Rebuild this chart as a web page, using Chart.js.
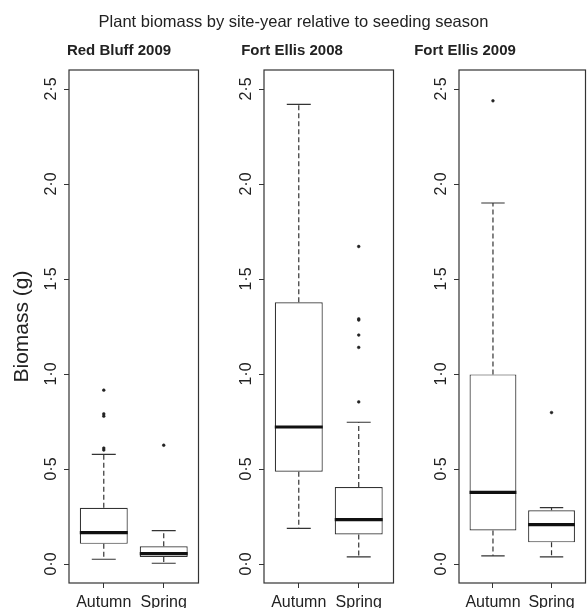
<!DOCTYPE html>
<html>
<head>
<meta charset="utf-8">
<script src="https://cdn.jsdelivr.net/npm/chart.js@4/dist/chart.umd.min.js"></script>
<style>
  html, body { margin: 0; padding: 0; background: #fff; }
  #figure { position: relative; width: 587px; height: 608px; overflow: hidden;
            font-family: "Liberation Sans", Arial, sans-serif; color: #222; }
  #figure canvas { position: absolute; top: 0; }
  .main-title { position: absolute; top: 13px; left: 0; width: 587px; text-align: center;
                font-size: 16.5px; line-height: 1; z-index: 2; }
  .panel-title { position: absolute; top: 42px; font-size: 15px; font-weight: bold; line-height: 1;
                 transform: translateX(-50%); white-space: nowrap; z-index: 2; }
</style>
</head>
<body>
<div id="figure">
  <div class="main-title">Plant biomass by site-year relative to seeding season</div>
  <div class="panel-title" style="left:119px">Red Bluff 2009</div>
  <div class="panel-title" style="left:292px">Fort Ellis 2008</div>
  <div class="panel-title" style="left:465px">Fort Ellis 2009</div>
  <canvas id="panel0" width="203" height="608" style="left:0px"></canvas>
  <canvas id="panel1" width="203" height="608" style="left:195px"></canvas>
  <canvas id="panel2" width="200" height="608" style="left:390px"></canvas>
</div>
<script>
// seeding season groups and site-years
const groups = ['Autumn', 'Spring'];
const siteYears = ['Red Bluff 2009', 'Fort Ellis 2008', 'Fort Ellis 2009'];

// boxplot statistics per site-year, [Autumn, Spring]
const whiskerLow = [[0.025, 0.004], [0.187, 0.037], [0.043, 0.037]];
const quartile1 = [[0.106, 0.037], [0.486, 0.155], [0.176, 0.114]];
const medians = [[0.165, 0.055], [0.721, 0.234], [0.377, 0.207]];
const quartile3 = [[0.296, 0.093], [1.377, 0.405], [0.998, 0.283]];
const whiskerHigh = [[0.577, 0.176], [2.419, 0.746], [1.9, 0.297]];
const outliers = [
    [[0.915, 0.79, 0.778, 0.61, 0.6], [0.625]],
    [[], [1.671, 1.29, 1.284, 1.205, 1.14, 0.853]],
    [[2.438], [0.797]],
];

const yTicks = [0, 0.5, 1.0, 1.5, 2.0, 2.5];

Chart.defaults.font.family = '"Liberation Sans", Arial, sans-serif';
Chart.defaults.color = '#222';

const ink = '#333';

const framePlugin = {
    id: 'frame',
    afterDatasetsDraw(chart) {
        const { ctx, chartArea } = chart;
        ctx.save();
        ctx.strokeStyle = ink;
        ctx.lineWidth = 1.2;
        ctx.strokeRect(chartArea.left, chartArea.top,
            chartArea.right - chartArea.left, chartArea.bottom - chartArea.top);
        ctx.restore();
    },
};

// segments separated by null gaps
function segments(pairs) {
    const out = [];
    pairs.forEach(([a, b]) => {
        out.push(a, b, { x: a.x, y: null });
    });
    return out;
}

function makePanel(p) {
    const canvas = document.getElementById('panel' + p);
    const boxHalf = 0.4;
    const stapleHalf = 0.2;

    const boxes = groups.map((g, i) => ({ x: i + 1, y: [quartile1[p][i], quartile3[p][i]] }));
    const medianLines = segments(groups.map((g, i) => [
        { x: i + 1 - boxHalf, y: medians[p][i] },
        { x: i + 1 + boxHalf, y: medians[p][i] },
    ]));
    const whiskers = segments(groups.flatMap((g, i) => [
        [{ x: i + 1, y: quartile3[p][i] }, { x: i + 1, y: whiskerHigh[p][i] }],
        [{ x: i + 1, y: quartile1[p][i] }, { x: i + 1, y: whiskerLow[p][i] }],
    ]));
    const staples = segments(groups.flatMap((g, i) => [
        [{ x: i + 1 - stapleHalf, y: whiskerHigh[p][i] }, { x: i + 1 + stapleHalf, y: whiskerHigh[p][i] }],
        [{ x: i + 1 - stapleHalf, y: whiskerLow[p][i] }, { x: i + 1 + stapleHalf, y: whiskerLow[p][i] }],
    ]));
    const points = groups.flatMap((g, i) => outliers[p][i].map((v) => ({ x: i + 1, y: v })));

    new Chart(canvas, {
        type: 'bar',
        data: {
            datasets: [
                {
                    type: 'line',
                    label: 'Median',
                    data: medianLines,
                    borderColor: '#111',
                    borderWidth: 3.2,
                    pointRadius: 0,
                    spanGaps: false,
                    order: 0,
                },
                {
                    type: 'scatter',
                    label: 'Outliers',
                    data: points,
                    pointRadius: 1.4,
                    backgroundColor: '#222',
                    borderColor: '#222',
                    borderWidth: 0.5,
                    order: 1,
                },
                {
                    type: 'line',
                    label: 'Whiskers',
                    data: whiskers,
                    borderColor: ink,
                    borderWidth: 1.2,
                    borderDash: [5, 3],
                    pointRadius: 0,
                    spanGaps: false,
                    order: 2,
                },
                {
                    type: 'line',
                    label: 'Staples',
                    data: staples,
                    borderColor: ink,
                    borderWidth: 1.2,
                    pointRadius: 0,
                    spanGaps: false,
                    order: 2,
                },
                {
                    type: 'bar',
                    label: 'IQR',
                    data: boxes,
                    backgroundColor: '#fff',
                    borderColor: ink,
                    borderWidth: 1.2,
                    borderSkipped: false,
                    barPercentage: 1,
                    categoryPercentage: 0.8,
                    order: 3,
                },
            ],
        },
        options: {
            responsive: false,
            animation: false,
            layout: {
                padding: { top: 70, right: 2, left: 0, bottom: 0 },
            },
            plugins: {
                legend: { display: false },
                tooltip: { enabled: false },
            },
            scales: {
                x: {
                    type: 'linear',
                    min: 0.42,
                    max: 2.58,
                    offset: false,
                    grid: {
                        offset: false,
                        drawOnChartArea: false,
                        drawTicks: true,
                        tickLength: 5,
                        color: ink,
                    },
                    border: { display: false },
                    afterBuildTicks: (scale) => {
                        scale.ticks = groups.map((g, i) => ({ value: i + 1 }));
                    },
                    afterFit: (scale) => {
                        scale.height = 25;
                    },
                    ticks: {
                        autoSkip: false,
                        maxRotation: 0,
                        padding: 5,
                        color: '#222',
                        font: { size: 16 },
                        callback: (value) => groups[Math.round(value) - 1],
                    },
                },
                y: {
                    type: 'linear',
                    min: -0.1,
                    max: 2.6,
                    grid: {
                        drawOnChartArea: false,
                        drawTicks: true,
                        tickLength: 5,
                        color: ink,
                    },
                    border: { display: false },
                    afterBuildTicks: (scale) => {
                        scale.ticks = yTicks.map((v) => ({ value: v }));
                    },
                    afterFit: (scale) => {
                        scale.width = 69;
                    },
                    title: {
                        display: p === 0,
                        text: 'Biomass (g)',
                        color: '#222',
                        font: { size: 21 },
                        padding: { top: 10, bottom: 0 },
                    },
                    ticks: {
                        minRotation: 90,
                        maxRotation: 90,
                        crossAlign: 'center',
                        padding: 1,
                        color: '#222',
                        font: { size: 16 },
                        callback: (value) => value.toFixed(1).replace('.', '\u00b7'),
                    },
                },
            },
        },
        plugins: [framePlugin],
    });
}

siteYears.forEach((name, p) => makePanel(p));
</script>
</body>
</html>
